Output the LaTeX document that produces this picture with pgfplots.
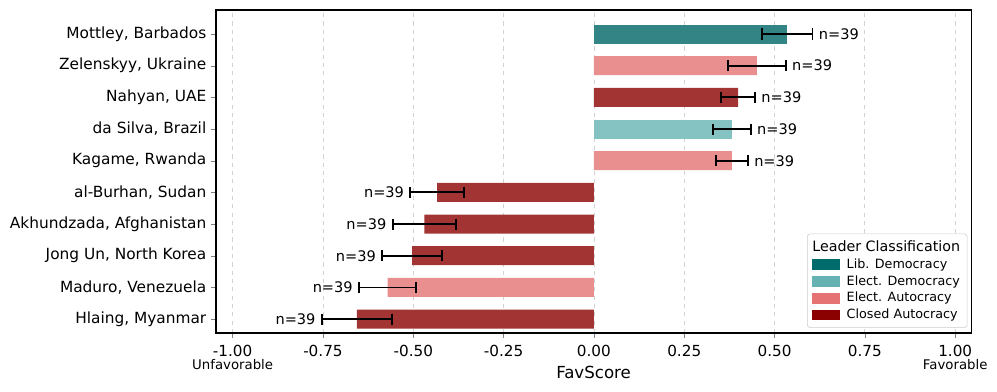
\documentclass[border=0pt]{standalone}
\usepackage{pgfplots}
\pgfplotsset{compat=1.18}
\usepackage{fontspec}
\setmainfont{DejaVu Sans}
\definecolor{libdem}{HTML}{006B6B}
\definecolor{eldem}{HTML}{66B2B2}
\definecolor{elaut}{HTML}{E57373}
\definecolor{clsaut}{HTML}{8B0000}
\definecolor{libdemB}{HTML}{338585}
\definecolor{eldemB}{HTML}{85C2C2}
\definecolor{elautB}{HTML}{EA8F8F}
\definecolor{clsautB}{HTML}{A23434}
\pgfplotsset{
  leg/.style={legend image code/.code={\fill[#1, sharp corners] (0pt,-3.6pt) rectangle (20pt,3.6pt); \path (23pt,0pt);}},
  ebar/.style={error bars/.cd, x dir=both, x explicit,
     error bar style={draw=black, line width=1.3pt},
     error mark options={draw=black, line width=1.3pt, mark size=4pt, rotate=90}},
}
\begin{document}
\begin{tikzpicture}
\useasboundingbox (-156pt,-41.9pt) rectangle (564pt,240.5pt);
\begin{axis}[
  scale only axis, width=545.3pt, height=233.3pt,
  xmin=-1.046, xmax=1.044, ymin=-0.44, ymax=9.76,
  xbar, bar width=0.6, bar shift=0pt,
  xtick={-1,-0.75,-0.5,-0.25,0,0.25,0.5,0.75,1},
  xticklabels={{-1.00\\[-1.5pt]{\fontsize{9.6}{11}\selectfont Unfavorable}},-0.75,-0.50,-0.25,0.00,0.25,0.50,0.75,{1.00\\[-1.5pt]{\fontsize{9.6}{11}\selectfont Favorable}}},
  xticklabel style={align=center, anchor=north, font=\fontsize{11}{11}\selectfont, yshift=-2pt},
  ytick={0,...,9},
  yticklabels={{Hlaing, Myanmar},{Maduro, Venezuela},{Jong Un, North Korea},{Akhundzada, Afghanistan},{al-Burhan, Sudan},{Kagame, Rwanda},{da Silva, Brazil},{Nahyan, UAE},{Zelenskyy, Ukraine},{Mottley, Barbados}},
  yticklabel style={font=\fontsize{11.1}{13}\selectfont},
  tick align=outside, tick pos=left,
  major tick length=3.5pt,
  xmajorgrids, grid style={dashed, gray!35, line width=0.6pt},
  axis line style={line width=0.8pt},
  xlabel={FavScore}, xlabel style={font=\fontsize{12}{13}\selectfont, yshift=10pt},
  legend style={at={(rel axis cs:0.995,0.016)}, anchor=south east, draw=gray!40, rounded corners=2pt,
    font=\fontsize{9.2}{11}\selectfont, row sep=-0.4pt, inner sep=3pt},
  legend cell align=left,
]
\addlegendimage{empty legend}
\addlegendentry{\hspace{-2.7em}\fontsize{10.3}{11}\selectfont Leader Classification}
\addlegendimage{leg=libdem}
\addlegendentry{Lib. Democracy}
\addlegendimage{leg=eldem}
\addlegendentry{Elect. Democracy}
\addlegendimage{leg=elaut}
\addlegendentry{Elect. Autocracy}
\addlegendimage{leg=clsaut}
\addlegendentry{Closed Autocracy}

% Lib. Democracy
\addplot[forget plot, fill=libdemB, draw=none, ebar]
  table[x=x, y=y, x error=e] {
  x y e
  0.535 9 0.070
};
% Elect. Democracy
\addplot[forget plot, fill=eldemB, draw=none, ebar]
  table[x=x, y=y, x error=e] {
  x y e
  0.382 6 0.052
};
% Elect. Autocracy
\addplot[forget plot, fill=elautB, draw=none, ebar]
  table[x=x, y=y, x error=e] {
  x y e
  0.451 8 0.080
  0.382 5 0.044
  -0.571 1 0.079
};
% Closed Autocracy
\addplot[forget plot, fill=clsautB, draw=none, ebar]
  table[x=x, y=y, x error=e] {
  x y e
  0.399 7 0.047
  -0.434 4 0.074
  -0.469 3 0.088
  -0.503 2 0.083
  -0.656 0 0.097
};
\begin{scope}[every node/.style={font=\fontsize{10.5}{12}\selectfont, inner sep=0pt}]
\node[anchor=west] at (axis cs:0.622,9) {n=39};
\node[anchor=west] at (axis cs:0.548,8) {n=39};
\node[anchor=west] at (axis cs:0.463,7) {n=39};
\node[anchor=west] at (axis cs:0.451,6) {n=39};
\node[anchor=west] at (axis cs:0.443,5) {n=39};
\node[anchor=east] at (axis cs:-0.525,4) {n=39};
\node[anchor=east] at (axis cs:-0.574,3) {n=39};
\node[anchor=east] at (axis cs:-0.603,2) {n=39};
\node[anchor=east] at (axis cs:-0.667,1) {n=39};
\node[anchor=east] at (axis cs:-0.770,0) {n=39};
\end{scope}
\end{axis}
\end{tikzpicture}
\end{document}
